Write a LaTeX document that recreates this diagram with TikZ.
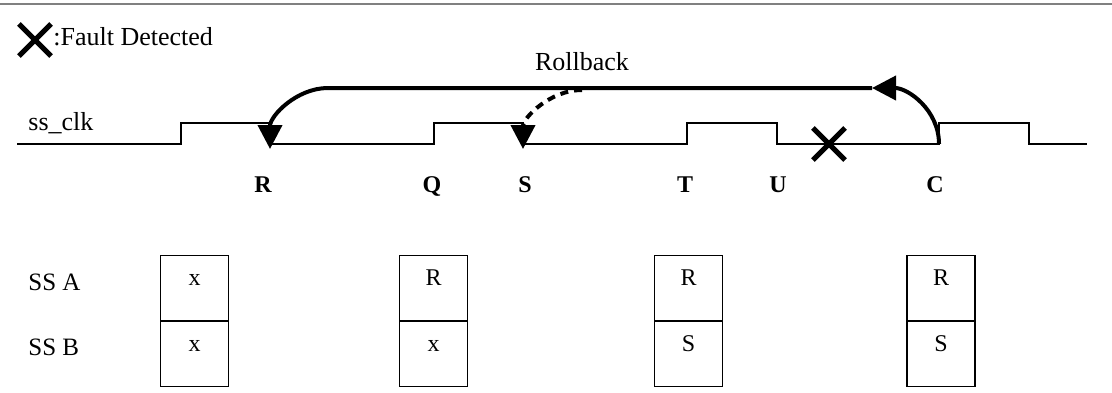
\documentclass[tikz,border=0pt]{standalone}
\usepackage{fontspec}
\setmainfont{Liberation Serif}
\usetikzlibrary{arrows.meta,shapes.misc}

\tikzset{
  wave/.style={line width=0.6pt},
  rb/.style={line width=2pt},
  rbhead/.style={-{Triangle[length=12pt,width=12pt]}},
  fault/.style={cross out,draw,line width=2.6pt,minimum size=13.5pt,inner sep=0pt},
  ev/.style={font=\fontsize{12}{14}\selectfont\bfseries,anchor=base,inner sep=0pt},
  txt/.style={font=\fontsize{13}{15}\selectfont,anchor=base west,inner sep=0pt},
  cell/.style={draw,line width=0.6pt,minimum width=34pt,inner sep=0pt,
    text height=15pt,text depth=17.5pt,anchor=north,font=\fontsize{12}{14}\selectfont},
}

\begin{document}
\begin{tikzpicture}[x=0.5pt,y=-0.5pt]
  \useasboundingbox (0,0) rectangle (1112,392);
  \draw[gray,line width=0.8pt] (0,4) -- (1112,4);

  % legend
  \node[fault] (key) at (35,40) {};
  \node[txt] (keytxt) at (53,45) {:Fault Detected};

  % clock
  \node[txt] (clk) at (28,130) {ss\_clk};
  \draw[wave] (17,144) -- (181,144) |- (270,123) |- (434,144) |- (523,123)
    |- (687,144) |- (777,123) |- (939,144) |- (1029,123) |- (1087,144);
  \coordinate (rtip) at (270,149);
  \coordinate (stip) at (523,149);
  \coordinate (c) at (939,144);

  \foreach \x/\t in {263/R,432/Q,525/S,685/T,778/U,935/C}
    \node[ev] (ev\t) at (\x,192) {\t};

  \node[fault] (err) at (829,144) {};

  % rollback arrows
  \node[txt,anchor=base] (rbtxt) at (582,70) {Rollback};
  \coordinate (hookC) at (872,88);
  \coordinate (hookL) at (328,88);
  \coordinate (hookS) at (582,90);
  \draw[rb,rbhead] (c) .. controls (939,110) and (908,88) .. (hookC);
  \draw[rb,rbhead] (hookC) -- (hookL) .. controls (296.5,88) and (270,116) .. (rtip);
  \draw[rb,rbhead,dash pattern=on 4pt off 3pt] (hookS) .. controls (550,90) and (523,118) .. (stip);

  % state registers
  \node[txt,font=\fontsize{12.5}{15}\selectfont] (ssa) at (28,290) {SS A};
  \node[txt,font=\fontsize{12.5}{15}\selectfont] (ssb) at (28,355) {SS B};
  \foreach \x/\a/\b [count=\i] in {194.5/x/x,433.5/R/x,688.5/R/S,941/R/S} {
    \node[cell] (a\i) at (\x,255) {\a};
    \node[cell] (b\i) at (a\i.south) {\b};
  }
\end{tikzpicture}
\end{document}
